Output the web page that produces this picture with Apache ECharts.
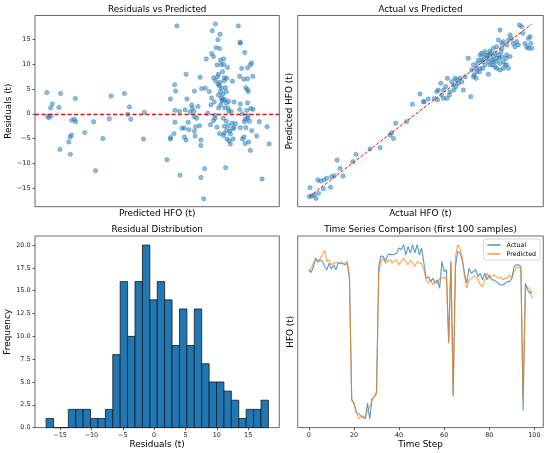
<!DOCTYPE html>
<html>
<head>
<meta charset="utf-8">
<script src="https://cdn.jsdelivr.net/npm/echarts@6/dist/echarts.min.js"></script>
<style>
html, body { margin: 0; padding: 0; background: #fff; }
#chart { width: 550px; height: 453px; }
</style>
</head>
<body>
<div id="chart"></div>
<script>
// 残差 vs 预测值 (左上)
var residX = [10.2,16.3,12.7,11.9,15.6,22.8,10.6,11.2,12.1,21.3,22.4,23.0,27.0,21.1,20.5,19.9,16.0,20.6,31.7,30.9,35.0,37.8,38.6,44.5,46.7,46.0,47.3,53.3,52.9,
  67.7,84.7,83.3,86.7,85.8,94.8,95.6,95.7,85.0,86.6,83.0,83.8,88.3,86.9,80.7,97.6,85.4,87.2,88.3,90.0,98.9,100.7,100.1,96.3,
  71.7,77.9,86.0,85.7,83.9,88.6,89.7,95.4,97.2,98.9,101.2,84.7,86.7,88.6,92.2,66.7,67.1,64.8,72.1,75.4,78.6,80.2,86.4,87.3,
  89.1,89.5,86.9,98.1,98.8,99.2,83.0,84.2,87.3,87.9,88.9,89.5,87.6,92.9,95.7,98.9,82.7,74.2,74.5,77.0,86.1,88.8,90.3,100.3,
  101.3,95.4,66.8,68.8,71.3,73.5,75.2,81.3,90.6,91.6,98.5,75.4,76.4,72.7,66.8,84.5,83.8,82.5,88.2,97.8,98.9,99.7,92.0,104.1,
  69.9,71.0,73.0,76.0,77.7,85.4,88.6,90.4,92.9,92.3,95.7,98.1,107.5,66.4,75.4,88.6,89.7,91.3,97.3,100.7,102.9,64.9,64.8,71.0,
  71.7,75.7,78.3,78.2,88.2,89.8,90.8,92.5,96.6,97.8,99.4,91.3,108.4,100.1,63.3,79.9,89.2,69.0,78.3,105.3,79.5,
  86.0,87.0,88.0,84.5,89.5,90.5,85.8,87.8,91.0,86.5,96.5,97.5,99.0,93.5,82.0];
var residY = [4.3,4.1,2.0,1.2,1.3,3.1,-0.5,-0.8,-0.4,-1.3,-1.1,-1.6,-3.8,-4.3,-4.7,-5.7,-7.2,-8.2,-11.5,-1.6,-5.0,-1.0,3.6,4.1,1.4,-0.1,-1.1,0.3,-5.1,
  17.8,18.2,16.8,16.1,15.0,17.8,14.5,14.3,13.4,13.2,12.2,11.6,11.1,10.9,11.1,12.4,9.9,10.0,10.0,9.4,9.3,10.3,9.9,9.2,
  8.0,7.4,8.0,7.5,7.3,7.3,7.2,7.6,7.0,7.1,7.6,6.7,6.4,6.7,6.6,5.9,4.6,3.0,3.0,4.6,5.1,5.2,5.7,5.2,
  5.3,4.5,4.5,5.3,4.9,4.5,3.2,2.4,3.2,2.9,2.9,2.2,2.6,2.4,2.0,2.2,1.8,1.8,1.2,1.5,1.2,1.2,1.2,1.1,
  0.9,0.9,0.7,0.5,0.8,0.4,0.5,0.1,0.5,0.5,0.7,-0.6,-0.9,-1.7,-1.7,-0.9,-1.4,-2.2,-0.9,-1.1,-0.9,-1.5,-1.9,-1.6,
  -2.9,-2.9,-3.2,-2.6,-2.4,-2.7,-2.5,-2.4,-2.8,-3.0,-2.8,-2.8,-2.6,-4.0,-3.5,-3.9,-3.3,-4.1,-4.7,-3.4,-4.5,-4.8,-5.1,-4.7,
  -5.3,-4.5,-5.3,-6.4,-4.4,-5.1,-5.5,-5.1,-5.1,-6.0,-5.7,-6.1,-6.1,-7.4,-9.3,-11.1,-10.9,-12.4,-12.9,-13.2,-17.2,
  3.8,1.8,4.0,-0.3,-1.5,2.5,6.0,8.5,-3.5,-4.0,0.0,-1.6,-0.4,-2.0,4.5];

// 实际值 vs 预测值 (右上)
var actualHFO = [10.4,11.5,10.7,12.5,13.4,14.5,14.2,15.5,17.0,18.2,16.7,19.9,20.4,21.6,22.8,24.2,25.5,29.9,31.3,37.6,42.1,46.6,47.3,48.1,
  49.1,54.0,56.6,60.0,61.5,61.9,63.7,66.4,67.5,68.2,67.8,69.3,
  69.7,70.5,71.5,72.2,70.5,72.0,73.4,74.2,74.9,75.7,76.4,77.2,77.9,78.7,79.4,80.2,76.1,75.2,73.1,82.7,81.6,83.1,83.9,84.3,
  85.1,85.7,86.1,86.9,87.6,88.1,88.7,89.1,89.9,90.6,91.0,91.3,92.1,92.5,92.8,93.6,94.0,94.3,95.1,95.5,95.8,96.3,96.6,97.3,
  98.1,98.5,98.8,99.6,100.3,90.6,95.8,95.1,96.6,97.3,98.8,99.6,100.3,101.0,101.8,102.5,103.3,104.0,104.5,105.5,106.0,107.0,
  107.8,108.5,109.3,110.0,109.6,108.5,96.6,94.3,92.8,91.6,89.9,88.1,86.6,85.4,83.9,85.1,86.9,92.8,94.3,91.3,97.3,95.8,89.1,
  87.6,98.8,93.6];
var predictedHFO = [10.4,10.8,15.6,11.3,9.4,12.3,20.0,19.4,20.0,21.0,15.0,15.8,21.9,22.5,31.5,26.7,22.3,30.6,34.8,37.9,38.7,46.0,47.3,44.0,
  52.7,53.7,63.7,69.6,65.2,65.2,66.7,67.1,71.0,71.9,66.2,75.8,
  69.0,71.9,73.9,78.7,67.1,67.1,71.0,76.7,74.8,78.7,77.7,75.8,78.7,76.7,71.9,79.6,73.9,71.9,69.0,68.1,90.2,83.5,86.4,80.6,
  84.4,87.3,89.2,92.1,93.1,88.3,91.2,94.0,90.2,88.3,92.1,94.4,89.2,86.4,91.2,93.1,88.3,84.4,92.1,90.2,87.3,94.0,91.2,88.3,
  86.4,90.2,92.1,84.4,91.2,81.0,106.5,100.8,98.8,99.8,97.9,100.8,103.7,101.7,98.8,96.9,99.8,97.9,109.4,108.5,104.6,98.8,
  96.9,101.7,102.7,96.0,98.8,96.0,96.0,96.9,96.0,93.1,92.1,84.4,82.5,82.5,79.6,78.7,84.4,88.3,90.2,86.4,84.4,83.5,86.4,
  89.2,86.4,85.4];

// 残差分布直方图 (左下), 30 个等宽区间
var histCounts = [1,0,0,2,2,2,1,1,2,8,16,10,16,20,14,16,14,9,13,9,13,7,5,5,4,3,1,2,2,3];
var histMin = -17.23, histMax = 18.23;

// 时间序列 (右下), 前 100 个样本
var tsActual = [96.5,94.6,97.7,102.9,100.6,101.9,101.0,98.1,96.2,100.0,
  96.7,99.0,96.2,100.0,100.0,100.0,99.0,100.0,92.0,22.1,
  19.2,14.4,13.5,12.5,11.5,10.6,19.6,10.6,22.1,23.1,
  26.0,98.1,104.2,103.8,101.0,104.8,105.2,104.8,105.2,105.8,
  108.7,107.7,110.6,104.8,109.6,105.8,110.6,105.8,110.6,104.8,
  108.7,100.0,91.3,92.3,89.4,91.3,88.5,90.4,85.6,101.0,
  95.2,96.2,54.8,101.0,24.0,98.1,106.7,105.8,101.9,94.2,
  88.5,97.1,94.2,95.2,96.2,92.3,94.2,90.4,94.2,90.4,
  93.3,90.4,90.4,89.4,88.5,87.5,87.5,88.5,89.4,89.4,
  91.3,98.1,99.0,99.0,98.1,15.4,88.5,84.6,82.7,83.7];
var tsPredicted = [95.0,97.1,100.0,101.9,101.0,102.9,104.8,107.3,101.0,101.9,
  99.0,100.0,100.6,100.0,100.6,99.4,100.0,101.5,91.3,20.8,
  20.2,15.4,10.6,11.5,12.5,11.5,15.4,17.3,21.2,23.7,
  25.0,94.2,101.0,102.9,100.0,101.3,101.9,100.0,101.5,101.9,
  99.0,101.0,102.9,101.0,99.0,101.9,100.0,98.1,101.0,100.0,
  100.0,96.2,90.4,88.5,90.4,87.5,89.4,88.5,91.3,91.3,
  92.3,90.4,53.8,101.0,23.1,103.8,110.6,108.7,103.8,92.3,
  85.6,90.4,91.3,92.3,92.3,91.3,87.5,86.5,90.4,94.2,
  91.3,92.3,93.3,92.3,91.3,92.3,90.4,91.3,91.3,93.3,
  91.3,95.2,97.7,97.7,97.1,22.1,85.6,86.5,84.6,79.8];

var residTicks = [-15, -10, -5, 0, 5, 10, 15];
var freqTicks = [0, 2.5, 5, 7.5, 10, 12.5, 15, 17.5, 20];
var stepTicks = [0, 20, 40, 60, 80, 100];

var FONT = 'DejaVu Sans';
var BLUE = '#1f77b4', ORANGE = '#ff7f0e', RED = '#ff0000';

function minus(v) {
  return String(v).replace('-', '\u2212');
}

// 拼出散点数据
function zip(a, b) {
  var out = [];
  for (var i = 0; i < a.length && i < b.length; i++) out.push([a[i], b[i]]);
  return out;
}

var binW = (histMax - histMin) / histCounts.length;
var histData = histCounts.map(function (c, i) {
  return [histMin + i * binW, histMin + (i + 1) * binW, c];
});

var aMin = Math.min.apply(null, actualHFO), aMax = Math.max.apply(null, actualHFO);

function axisBase(grid, name, gap, min, max) {
  return {
    type: 'value', gridIndex: grid, min: min, max: max,
    name: name, nameLocation: 'middle', nameGap: gap,
    nameTextStyle: { fontFamily: FONT, fontSize: 8.9, color: '#000' },
    axisLine: { show: false, onZero: false },
    axisTick: { show: false },
    axisLabel: { show: false },
    splitLine: { show: false }
  };
}

function withTicks(ax, values, fmt) {
  ax.axisTick = { show: true, length: 2.5, lineStyle: { color: '#333', width: 0.8 }, customValues: values };
  ax.axisLabel = {
    show: true, margin: 4.5, fontFamily: FONT, fontSize: 6.4, color: '#222',
    customValues: values, formatter: fmt
  };
  return ax;
}

function gridBox(left, top, width, height) {
  return { left: left, top: top, width: width, height: height, show: true,
    borderColor: '#444', borderWidth: 0.8, backgroundColor: 'transparent' };
}

function title(text, cx, top) {
  return { text: text, left: cx, top: top, textAlign: 'center', padding: 0,
    textStyle: { fontFamily: FONT, fontSize: 8.8, fontWeight: 'normal', color: '#000' } };
}

var chart = echarts.init(document.getElementById('chart'), null, { renderer: 'canvas' });

var option = {
  backgroundColor: '#fff',
  animation: false,
  title: [
    title('Residuals vs Predicted', 157.2, 5),
    title('Actual vs Predicted', 420.5, 5),
    title('Residual Distribution', 157.2, 225.5),
    title('Time Series Comparison (first 100 samples)', 420.5, 225.5)
  ],
  grid: [
    gridBox(35, 15.5, 244.3, 191.2),
    gridBox(297.7, 15.5, 245.6, 191.2),
    gridBox(35, 236, 244.3, 191.6),
    gridBox(297.7, 236, 245.6, 191.6)
  ],
  xAxis: [
    axisBase(0, 'Predicted HFO (t)', 2, 5, 112.9),
    axisBase(1, 'Actual HFO (t)', 2, 5.2, 115.2),
    withTicks(axisBase(2, 'Residuals (t)', 12.8, -19.0, 19.97), residTicks, minus),
    withTicks(axisBase(3, 'Time Step', 12.8, -4.95, 103.95), stepTicks)
  ],
  yAxis: [
    withTicks(axisBase(0, 'Residuals (t)', 19, -18.8, 19.9), residTicks, minus),
    axisBase(1, 'Predicted HFO (t)', 3.2, 4.6, 114.9),
    withTicks(axisBase(2, 'Frequency', 19, 0, 21), freqTicks, function (v) { return v.toFixed(1); }),
    axisBase(3, 'HFO (t)', 2.5, 5.6, 115.6)
  ],
  legend: {
    data: ['Actual', 'Predicted'],
    orient: 'vertical', right: 10, top: 239,
    icon: 'rect', itemWidth: 13, itemHeight: 1.2, itemGap: 3,
    padding: [3, 4, 3, 4],
    backgroundColor: 'rgba(255,255,255,0.8)', borderColor: '#ccc', borderWidth: 0.8, borderRadius: 2,
    textStyle: { fontFamily: FONT, fontSize: 6.3, color: '#000', padding: [0, 0, 0, 1] }
  },
  series: [
    {
      type: 'scatter', xAxisIndex: 0, yAxisIndex: 0,
      data: zip(residX, residY), symbolSize: 4.4,
      itemStyle: { color: BLUE, opacity: 0.5, borderColor: BLUE, borderWidth: 0.7 },
      markLine: {
        silent: true, symbol: 'none', label: { show: false },
        lineStyle: { color: RED, type: [4, 2.5], width: 1.3 },
        data: [{ yAxis: 0 }]
      }
    },
    {
      type: 'scatter', xAxisIndex: 1, yAxisIndex: 1,
      data: zip(actualHFO, predictedHFO), symbolSize: 4.4,
      itemStyle: { color: BLUE, opacity: 0.5, borderColor: BLUE, borderWidth: 0.7 }
    },
    {
      // 对角参考线 y = x
      type: 'line', xAxisIndex: 1, yAxisIndex: 1, symbol: 'none', silent: true,
      data: [[aMin, aMin], [aMax, aMax]],
      lineStyle: { color: RED, type: [3, 2], width: 1 }
    },
    {
      type: 'custom', xAxisIndex: 2, yAxisIndex: 2,
      data: histData,
      encode: { x: [0, 1], y: 2 },
      renderItem: function (params, api) {
        var p0 = api.coord([api.value(0), api.value(2)]);
        var p1 = api.coord([api.value(1), 0]);
        return {
          type: 'rect',
          shape: { x: p0[0], y: p0[1], width: p1[0] - p0[0], height: p1[1] - p0[1] },
          style: { fill: BLUE, stroke: '#1a1a1a', lineWidth: 0.8 }
        };
      }
    },
    {
      name: 'Actual', type: 'line', xAxisIndex: 3, yAxisIndex: 3,
      data: tsActual.map(function (v, i) { return [i, v]; }),
      symbol: 'none', color: BLUE,
      lineStyle: { color: BLUE, width: 1.1, opacity: 0.75 }
    },
    {
      name: 'Predicted', type: 'line', xAxisIndex: 3, yAxisIndex: 3,
      data: tsPredicted.map(function (v, i) { return [i, v]; }),
      symbol: 'none', color: ORANGE,
      lineStyle: { color: ORANGE, width: 1.1, opacity: 0.7 }
    }
  ]
};

chart.setOption(option);
</script>
</body>
</html>
